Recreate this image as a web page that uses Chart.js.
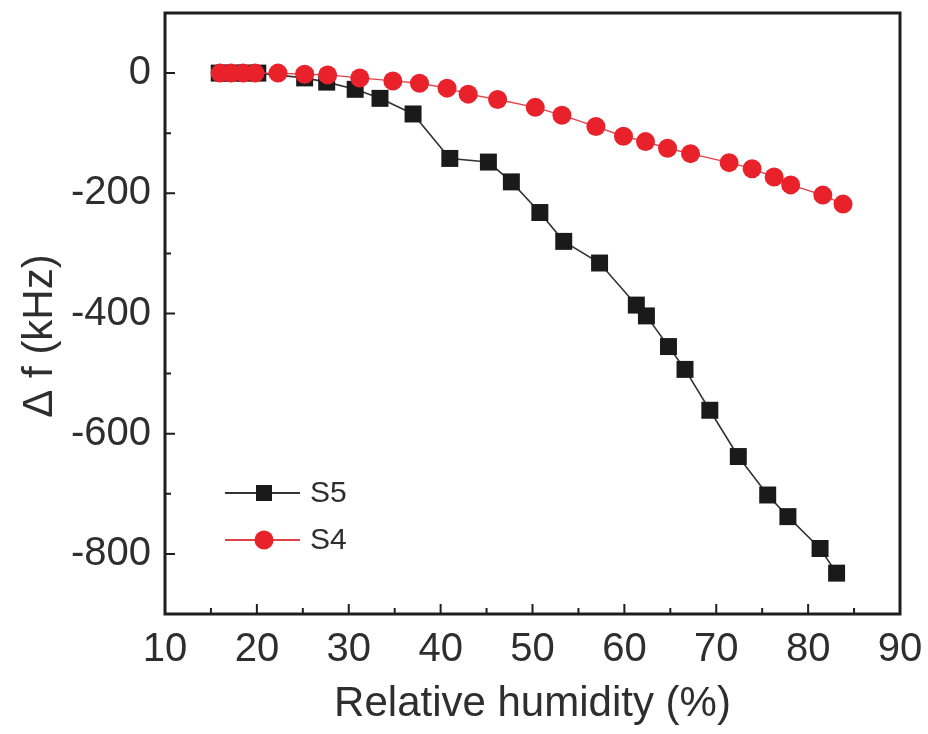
<!DOCTYPE html>
<html><head><meta charset="utf-8">
<script src="https://cdn.jsdelivr.net/npm/chart.js@4/dist/chart.umd.min.js"></script>
<style>html,body{margin:0;padding:0;background:#fff}</style>
</head><body>
<canvas id="c" width="928" height="734"></canvas>
<script>
// ---- data ----
const xTickValues = [10, 20, 30, 40, 50, 60, 70, 80, 90];
const yTickValues = [0, -200, -400, -600, -800];
const seriesNames = ['S5', 'S4'];
const s5Humidity = [15.9, 17.3, 18.7, 20.1, 25.2, 27.6, 30.7, 33.4, 37.0, 41.0, 45.2, 47.7, 50.8, 53.4, 57.3, 61.3, 62.4, 64.8, 66.6, 69.3, 72.4, 75.6, 77.8, 81.3, 83.1];
const s5Shift    = [0, 0, 0, 0, -8, -15, -27, -42, -68, -142, -148, -181, -232, -280, -316, -386, -404, -455, -493, -561, -638, -702, -738, -791, -832];
const s4Humidity = [16.0, 17.2, 18.5, 19.8, 22.3, 25.2, 27.7, 31.2, 34.8, 37.7, 40.7, 43.0, 46.2, 50.3, 53.2, 56.9, 59.9, 62.3, 64.7, 67.2, 71.4, 73.9, 76.3, 78.1, 81.6, 83.8];
const s4Shift    = [0, 0, 0, 0, 0, -2, -3, -8, -13, -17, -25, -35, -44, -57, -70, -89, -105, -114, -125, -134, -149, -159, -173, -186, -203, -218];
const xTitle = 'Relative humidity (%)';
const yTitle = 'Δ f (kHz)';

const FONT = '"Liberation Sans", Arial, Helvetica, sans-serif';
const TEXT = '#2e2e2e';
const FRAME = '#1e1e1e';
const BLACK = '#1a1a1a';
const RED = '#e8212b';

const toPts = (xs, ys) => xs.map((v, i) => ({x: v, y: ys[i]}));

const frameTicks = {
  id: 'frameTicks',
  beforeDatasetsDraw(chart) {
    const {ctx, chartArea: a, scales: {x, y}} = chart;
    ctx.save();
    ctx.strokeStyle = FRAME;
    ctx.lineWidth = 2;
    ctx.beginPath();
    xTickValues.forEach((v, i) => {
      const px = x.getPixelForValue(v);
      ctx.moveTo(px, a.bottom); ctx.lineTo(px, a.bottom - 10);
      if (i < xTickValues.length - 1) {
        const m = x.getPixelForValue((v + xTickValues[i + 1]) / 2);
        ctx.moveTo(m, a.bottom); ctx.lineTo(m, a.bottom - 6);
      }
    });
    yTickValues.forEach((v, i) => {
      const py = y.getPixelForValue(v);
      ctx.moveTo(a.left, py); ctx.lineTo(a.left + 10, py);
      if (i < yTickValues.length - 1) {
        const m = y.getPixelForValue((v + yTickValues[i + 1]) / 2);
        ctx.moveTo(a.left, m); ctx.lineTo(a.left + 6, m);
      }
    });
    ctx.stroke();
    ctx.lineWidth = 3;
    ctx.strokeRect(a.left, a.top, a.right - a.left, a.bottom - a.top);
    ctx.restore();
  },
  afterDraw(chart) {
    const {ctx} = chart;
    ctx.save();
    // y title
    ctx.fillStyle = TEXT;
    ctx.font = '42px ' + FONT;
    ctx.textAlign = 'center';
    ctx.textBaseline = 'middle';
    ctx.translate(40, 336);
    ctx.rotate(-Math.PI / 2);
    ctx.fillText(yTitle, 0, 0);
    ctx.restore();

    // legend
    ctx.save();
    const items = [
      {name: seriesNames[0], line: '#333', color: BLACK, shape: 'rect', y: 493},
      {name: seriesNames[1], line: '#e0424a', color: RED, shape: 'circle', y: 540}
    ];
    items.forEach(it => {
      ctx.strokeStyle = it.line; ctx.lineWidth = 2;
      ctx.beginPath(); ctx.moveTo(225, it.y); ctx.lineTo(300, it.y); ctx.stroke();
      ctx.fillStyle = it.color;
      if (it.shape === 'rect') ctx.fillRect(264 - 8, it.y - 8, 16, 16);
      else { ctx.beginPath(); ctx.arc(264, it.y, 9.5, 0, Math.PI * 2); ctx.fill(); }
      ctx.fillStyle = TEXT;
      ctx.font = '30px ' + FONT;
      ctx.textAlign = 'left'; ctx.textBaseline = 'middle';
      ctx.fillText(it.name, 310, it.y + 1);
    });
    ctx.restore();
  }
};

new Chart(document.getElementById('c'), {
  type: 'line',
  data: {
    datasets: [
      {label: seriesNames[0], data: toPts(s5Humidity, s5Shift), order: 1,
       borderColor: '#333', borderWidth: 1.6, pointStyle: 'rect', pointRadius: 12,
       pointBackgroundColor: BLACK, pointBorderColor: BLACK, pointBorderWidth: 0, tension: 0},
      {label: seriesNames[1], data: toPts(s4Humidity, s4Shift), order: 0,
       borderColor: '#e0424a', borderWidth: 1.4, pointStyle: 'circle', pointRadius: 9.5,
       pointBackgroundColor: RED, pointBorderColor: RED, pointBorderWidth: 0, tension: 0}
    ]
  },
  options: {
    responsive: false, animation: false, devicePixelRatio: 1,
    layout: {padding: {top: 13, right: 28, left: 0, bottom: 0}},
    plugins: {legend: {display: false}, tooltip: {enabled: false}},
    scales: {
      x: {
        type: 'linear', min: 10, max: 90,
        afterBuildTicks: s => { s.ticks = xTickValues.map(v => ({value: v})); },
        afterFit: s => { s.height = 120; s.paddingLeft = 0; s.paddingRight = 0; },
        grid: {display: false, drawTicks: false},
        border: {display: false},
        ticks: {color: TEXT, font: {family: FONT, size: 40}, padding: 12, maxRotation: 0, autoSkip: false},
        title: {display: true, text: xTitle, color: TEXT, font: {family: FONT, size: 42}, padding: {top: 0, bottom: 4}}
      },
      y: {
        type: 'linear', min: -900, max: 100,
        afterBuildTicks: s => { s.ticks = yTickValues.map(v => ({value: v})); },
        afterFit: s => { s.width = 165; s.paddingTop = 0; s.paddingBottom = 0; },
        grid: {display: false, drawTicks: false},
        border: {display: false},
        ticks: {color: TEXT, font: {family: FONT, size: 40}, padding: 14, autoSkip: false}
      }
    }
  },
  plugins: [frameTicks]
});
</script>
</body></html>
